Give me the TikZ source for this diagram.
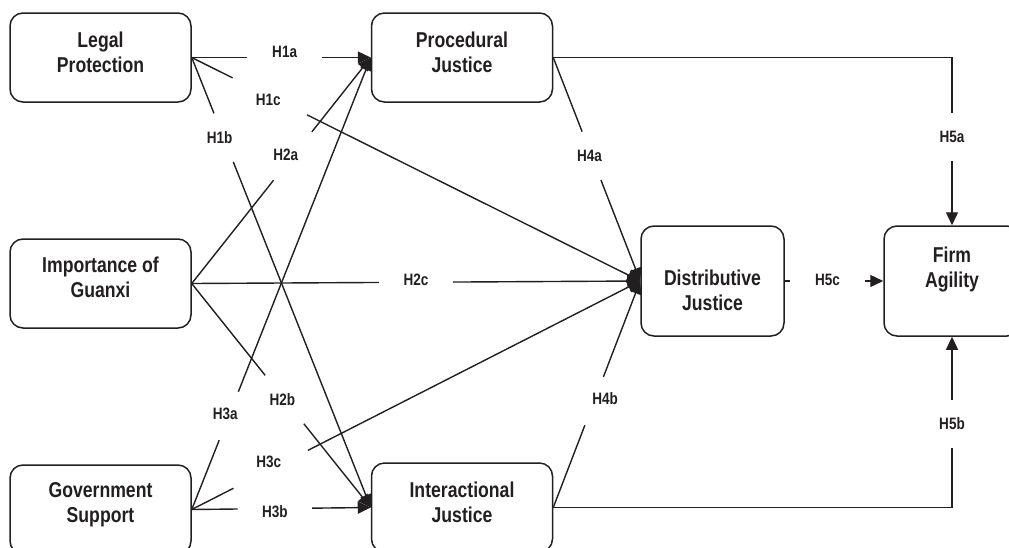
\documentclass[tikz,border=0pt]{standalone}
\usepackage{fontspec}
\newfontfamily\diagfont{Liberation Sans}[FakeStretch=0.82]
\usetikzlibrary{arrows.meta}
\definecolor{ink}{HTML}{231F20}
\tikzset{
    box/.style={draw=ink, line width=1.5pt, rounded corners=13pt, minimum width=181pt, minimum height=89pt, inner sep=0pt},
    boxtxt/.style={text=ink, font=\diagfont\bfseries\fontsize{21.5}{25}\selectfont, align=center, inner sep=0pt},
    hgap/.style={rectangle, minimum width=74pt, minimum height=48pt, inner sep=0pt},
    lbl/.style={text=ink, font=\diagfont\bfseries\fontsize{16.5}{18}\selectfont, inner sep=0pt},
    conn/.style={draw=ink, line width=1.4pt},
    arr/.style={conn, -{Triangle[length=13pt,width=12pt]}}
}
\begin{document}
\begin{tikzpicture}[x=1pt,y=-1pt]
            \useasboundingbox (0,0) rectangle (1009,547);
            \clip (0,0) rectangle (1009,547);

            \node[box] (legal) at (100.5,57.5) {};
            \node[box] (proc) at (462,57.5) {};
            \node[box] (guanxi) at (100.5,283.5) {};
            \node[box] (gov) at (100.5,509.5) {};
            \node[box] (inter) at (462,507.5) {};
            \node[box, minimum width=143pt, minimum height=110pt] (dist) at (712.5,281) {};
            \node[box, minimum width=136pt, minimum height=110pt] (firm) at (952,281) {};

            \node[boxtxt] (legaltxt) at (100.5,52) {Legal\\Protection};
            \node[boxtxt] (proctxt) at (462,52) {Procedural\\Justice};
            \node[boxtxt] (guanxitxt) at (100.5,277.5) {Importance of\\Guanxi};
            \node[boxtxt] (govtxt) at (100.5,505) {Government\\Support};
            \node[boxtxt] (intertxt) at (462,502) {Interactional\\Justice};
            \node[boxtxt] (disttxt) at (712.5,290.5) {Distributive\\Justice};
            \node[boxtxt] (firmtxt) at (952,269) {Firm\\Agility};

            % gaps on the connectors, where the labels sit
            \path (legal.east) -- node[hgap,pos=0.519] (g1a) {} (proc.west);
            \path (legal.east) -- node[hgap,pos=0.174] (g1c) {} (dist.west);
            \path (legal.east) -- node[hgap,pos=0.178] (g1b) {} (inter.west);
            \path (guanxi.east) -- node[hgap,pos=0.564] (g2a) {} (proc.west);
            \path (guanxi.east) -- node[hgap,pos=0.5] (g2c) {} (dist.west);
            \path (guanxi.east) -- node[hgap,pos=0.518] (g2b) {} (inter.west);
            \path (gov.east) -- node[hgap,pos=0.207] (g3a) {} (proc.west);
            \path (gov.east) -- node[hgap,pos=0.176] (g3c) {} (dist.west);
            \path (gov.east) -- node[hgap,pos=0.464] (g3b) {} (inter.west);
            \path (proc.east) -- node[hgap,pos=0.44] (g4a) {} (dist.west);
            \path (inter.east) -- node[hgap,pos=0.47] (g4b) {} (dist.west);
            \path (proc.east) -| node[hgap,pos=0.737] (g5a) {} (firm.north);
            \path (inter.east) -| node[hgap,pos=0.745] (g5b) {} (firm.south);
            \path (dist.east) -- node[hgap,pos=0.435] (g5c) {} (firm.west);

            \draw[conn] (legal.east) -- (g1a);
            \draw[arr] (g1a) -- (proc.west);
            \draw[conn] (legal.east) -- (g1c);
            \draw[arr] (g1c) -- (dist.west);
            \draw[conn] (legal.east) -- (g1b);
            \draw[arr] (g1b) -- (inter.west);
            \draw[conn] (guanxi.east) -- (g2a);
            \draw[arr] (g2a) -- (proc.west);
            \draw[conn] (guanxi.east) -- (g2c);
            \draw[arr] (g2c) -- (dist.west);
            \draw[conn] (guanxi.east) -- (g2b);
            \draw[arr] (g2b) -- (inter.west);
            \draw[conn] (gov.east) -- (g3a);
            \draw[arr] (g3a) -- (proc.west);
            \draw[conn] (gov.east) -- (g3c);
            \draw[arr] (g3c) -- (dist.west);
            \draw[conn] (gov.east) -- (g3b);
            \draw[arr] (g3b) -- (inter.west);
            \draw[conn] (proc.east) -- (g4a);
            \draw[arr] (g4a) -- (dist.west);
            \draw[conn] (inter.east) -- (g4b);
            \draw[arr] (g4b) -- (dist.west);
            \draw[conn] (proc.east) -| (g5a);
            \draw[arr] (g5a) -- (firm.north);
            \draw[conn] (inter.east) -| (g5b);
            \draw[arr] (g5b) -- (firm.south);
            \draw[conn] (dist.east) -- (g5c);
            \draw[arr] (g5c) -- (firm.west);

            \node[lbl, yshift=5.5pt] (h1a) at (g1a) {H1a};
            \node[lbl, yshift=-3.5pt, xshift=-1.5pt] (h1c) at (g1c) {H1c};
            \node[lbl, xshift=-4pt] (h1b) at (g1b) {H1b};
            \node[lbl, xshift=-7pt, yshift=1pt] (h2a) at (g2a) {H2a};
            \node[lbl, yshift=2pt] (h2c) at (g2c) {H2c};
            \node[lbl, xshift=-2pt] (h2b) at (g2b) {H2b};
            \node[lbl, xshift=-3.5pt, yshift=2pt] (h3a) at (g3a) {H3a};
            \node[lbl, xshift=-2pt, yshift=7pt] (h3c) at (g3c) {H3c};
            \node[lbl, yshift=-3.5pt] (h3b) at (g3b) {H3b};
            \node[lbl, xshift=-2pt] (h4a) at (g4a) {H4a};
            \node[lbl, xshift=11pt, yshift=2pt] (h4b) at (g4b) {H4b};
            \node[lbl] (h5a) at (g5a) {H5a};
            \node[lbl] (h5b) at (g5b) {H5b};
            \node[lbl, yshift=1pt] (h5c) at (g5c) {H5c};
\end{tikzpicture}
\end{document}
